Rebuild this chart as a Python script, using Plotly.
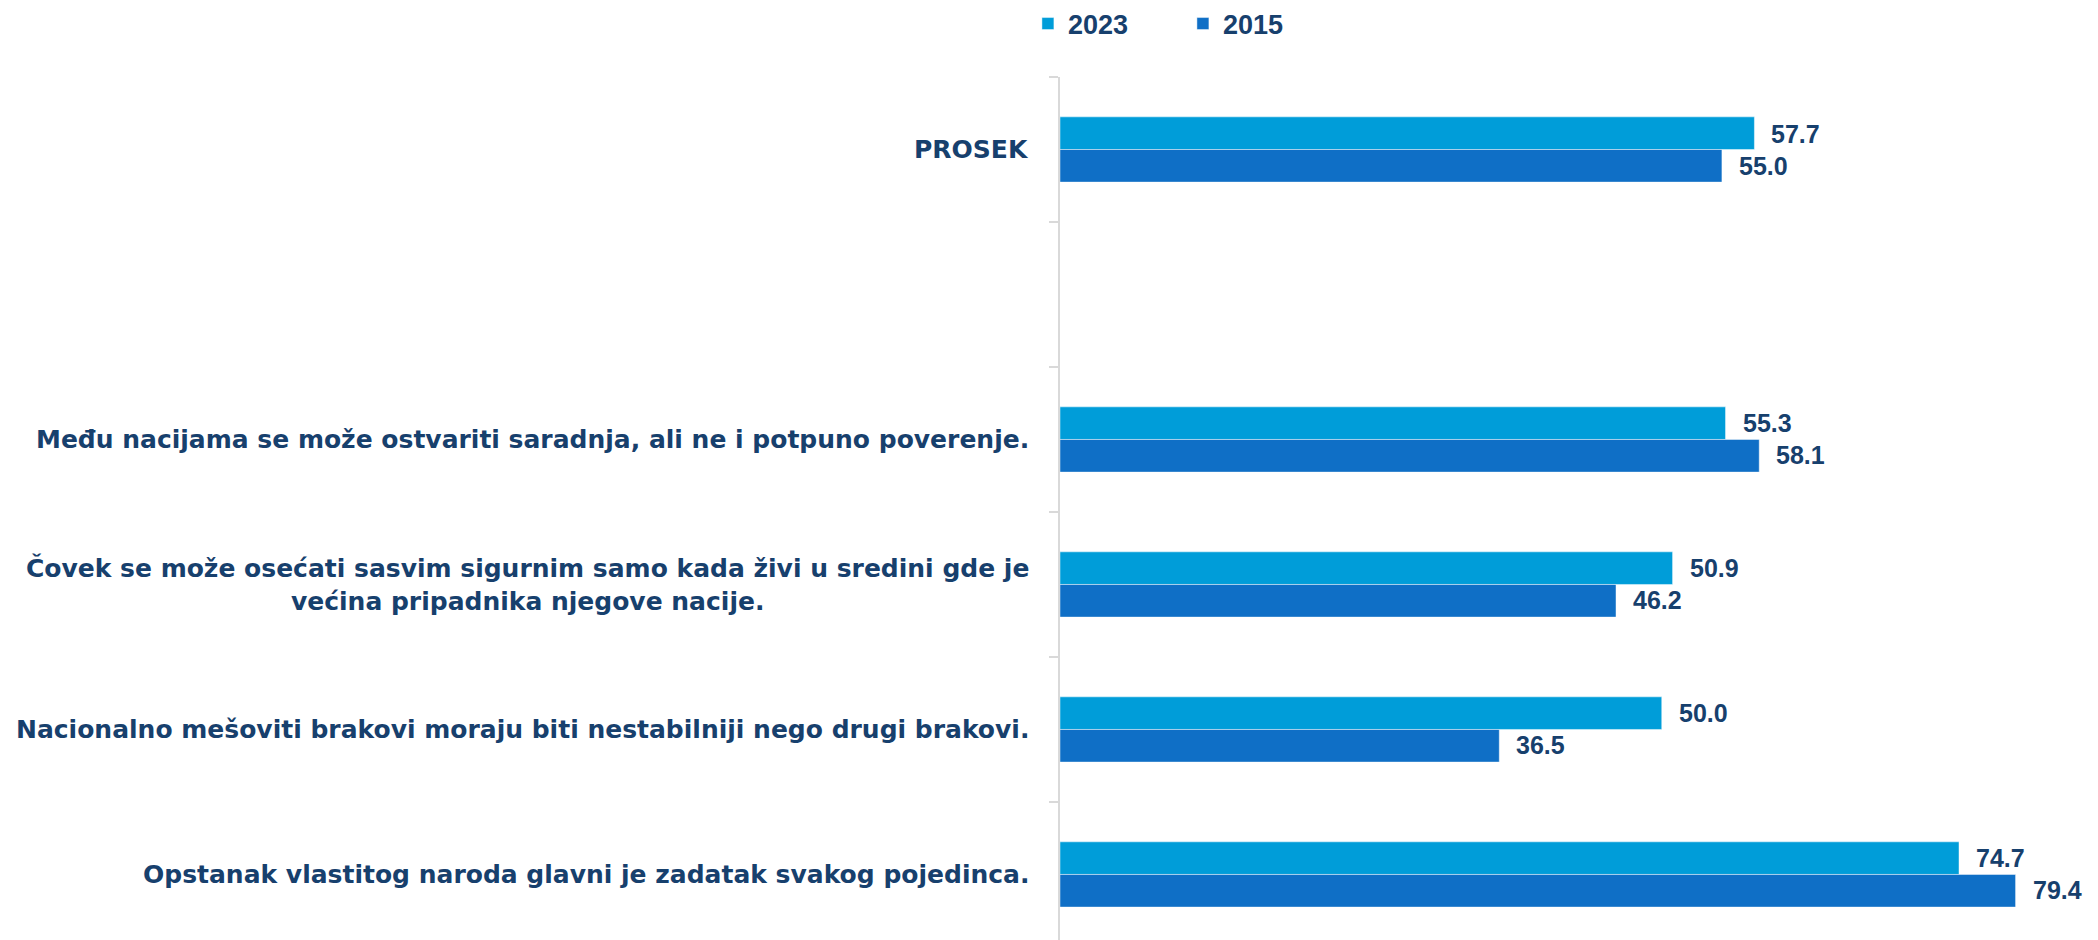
import plotly.graph_objects as go

categories = [
    "PROSEK",
    " ",
    "Među nacijama se može ostvariti saradnja, ali ne i potpuno poverenje.",
    "Čovek se može osećati sasvim sigurnim samo kada živi u sredini gde je<br>većina pripadnika njegove nacije.",
    "Nacionalno mešoviti brakovi moraju biti nestabilniji nego drugi brakovi.",
    "Opstanak vlastitog naroda glavni je zadatak svakog pojedinca.",
]
bar_categories = [categories[0]] + categories[2:]
values_2023 = [57.7, 55.3, 50.9, 50.0, 74.7]
values_2015 = [55.0, 58.1, 46.2, 36.5, 79.4]
series_names = ["2023", "2015"]

COL_2023 = "#009DD9"
COL_2015 = "#0F6FC6"
TEXT = "#17406D"
FONT = "Liberation Sans, Arial, sans-serif"
LABEL_FONT = "DejaVu Sans, sans-serif"

fig = go.Figure()
fig.add_trace(go.Bar(
    name=series_names[0], y=bar_categories, x=values_2023, orientation="h",
    marker=dict(color=COL_2023, line=dict(color="rgba(255,255,255,0.45)", width=1)),
    hoverinfo="x+y",
))
fig.add_trace(go.Bar(
    name=series_names[1], y=bar_categories, x=values_2015, orientation="h",
    marker=dict(color=COL_2015, line=dict(color="rgba(255,255,255,0.45)", width=1)),
    hoverinfo="x+y",
))

annotations = []
for cat, v23, v15 in zip(bar_categories, values_2023, values_2015):
    annotations.append(dict(x=v23, y=cat, xref="x", yref="y", text=f"<b>{v23:.1f}</b>",
                            showarrow=False, xanchor="left", yanchor="middle",
                            xshift=15, yshift=16,
                            font=dict(family=FONT, size=25, color=TEXT)))
    annotations.append(dict(x=v15, y=cat, xref="x", yref="y", text=f"<b>{v15:.1f}</b>",
                            showarrow=False, xanchor="left", yanchor="middle",
                            xshift=15, yshift=-16,
                            font=dict(family=FONT, size=25, color=TEXT)))
for cat in categories:
    if cat.strip():
        annotations.append(dict(x=0, y=cat, xref="paper", yref="y", text=f"<b>{cat}</b>",
                                showarrow=False, xanchor="right", yanchor="middle",
                                xshift=-29, align="center",
                                font=dict(family=LABEL_FONT, size=25, color=TEXT)))

fig.update_layout(
    width=2090, height=932,
    margin=dict(l=1052, r=3, t=69, b=0, autoexpand=False),
    paper_bgcolor="white", plot_bgcolor="white",
    barmode="group", bargap=0.55, bargroupgap=0,
    showlegend=True,
    legend=dict(orientation="h", xref="paper", yref="paper",
                x=-0.031, y=1.0614, xanchor="left", yanchor="middle",
                font=dict(family=FONT, size=27, color=TEXT, weight="bold"),
                itemwidth=30, tracegroupgap=0,
                entrywidth=110),
    font=dict(family=FONT, color=TEXT),
    annotations=annotations,
    xaxis=dict(range=[0, 86], visible=False, showgrid=False, zeroline=False),
    yaxis=dict(
        type="category", categoryorder="array", categoryarray=categories,
        range=[5.452, -0.5], showticklabels=False,
        showline=True, linecolor="#D9D9D9", linewidth=2,
        ticks="outside", tickson="boundaries", ticklen=9, tickwidth=2, tickcolor="#D9D9D9",
        showgrid=False, zeroline=False,
    ),
)
fig.write_html("out.html")
